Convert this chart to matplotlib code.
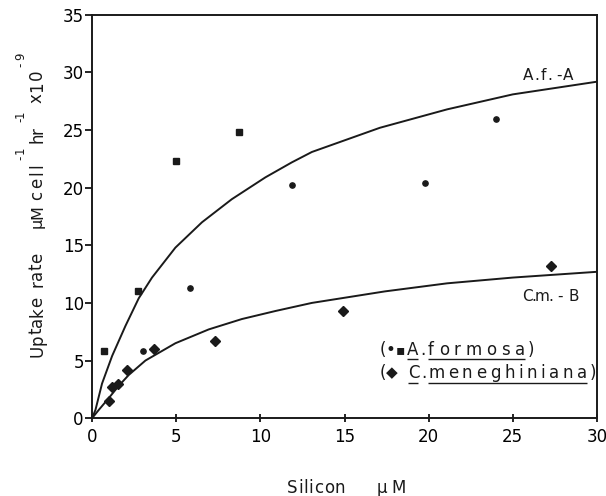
"""
Silicon uptake kinetics: A. formosa and C. meneghiniana.
"""
import matplotlib
matplotlib.use('Agg')
import matplotlib.pyplot as plt
from matplotlib.lines import Line2D
from matplotlib.transforms import IdentityTransform

plt.rcParams['font.family'] = ['DejaVu Sans']

# A. formosa, squares and circles (silicon uM, uptake rate)
af_sq_x = [0.7, 2.7, 5.0, 8.7]
af_sq_y = [5.8, 11.0, 22.3, 24.8]
af_ci_x = [3.0, 5.8, 11.9, 19.8, 24.0]
af_ci_y = [5.8, 11.3, 20.2, 20.4, 26.0]

# C. meneghiniana, diamonds
cm_x = [1.0, 1.2, 1.55, 2.1, 3.7, 7.3, 14.9, 27.3]
cm_y = [1.5, 2.7, 3.0, 4.2, 6.0, 6.7, 9.3, 13.2]

# fitted curves
curve_a_x = [0, 0.2, 0.59, 1.19, 1.98, 2.77, 3.56, 4.95, 6.53, 8.3, 10.3,
             11.87, 13.06, 17.1, 21.1, 25.0, 30.0]
curve_a_y = [0, 0.72, 3.0, 5.4, 8.0, 10.4, 12.2, 14.8, 17.0, 19.0, 20.9,
             22.2, 23.1, 25.2, 26.8, 28.1, 29.2]
curve_b_x = [0, 0.4, 0.99, 1.58, 2.18, 3.17, 4.95, 6.93, 8.9, 10.9, 13.06,
             17.4, 21.1, 25.0, 30.0]
curve_b_y = [0, 0.72, 1.74, 2.8, 3.75, 5.0, 6.5, 7.7, 8.6, 9.3, 10.0,
             11.0, 11.7, 12.2, 12.7]

x_ticks = [0, 5, 10, 15, 20, 25, 30]
y_ticks = [0, 5, 10, 15, 20, 25, 30, 35]

INK = '#1a1a1a'
H = 496
ID = IdentityTransform()

fig = plt.figure(figsize=(6.06, 4.96), dpi=100)
ax = fig.add_axes([0.152, 0.157, 0.833, 0.813])

ax.plot(curve_a_x, curve_a_y, color=INK, lw=1.4)
ax.plot(curve_b_x, curve_b_y, color=INK, lw=1.4)
ax.plot(af_sq_x, af_sq_y, 's', color=INK, ms=4.2, ls='none')
ax.plot(af_ci_x, af_ci_y, 'o', color=INK, ms=3.8, ls='none')
ax.plot(cm_x, cm_y, 'D', color=INK, ms=5.2, ls='none')

ax.set_xlim(0, 30)
ax.set_ylim(0, 35)
ax.set_xticks(x_ticks)
ax.set_yticks(y_ticks)
ax.tick_params(axis='x', direction='inout', length=6, width=1.2, labelsize=12, pad=4)
ax.tick_params(axis='y', direction='out', length=5, width=1.2, labelsize=12, pad=1)
for s in ax.spines.values():
    s.set_linewidth(1.4)
    s.set_color(INK)

fig.canvas.draw()
renderer = fig.canvas.get_renderer()


# text is set letter by letter so the wide spacing of the original can be kept
def fit(word, a, b, base, size=12, vertical=False):
    """Spread word between pixel a and b (image coords), baseline at base."""
    rot = 90 if vertical else 0
    texts = [fig.text(0, 0, c, fontsize=size, color=INK, transform=ID,
                      ha='left', va='baseline', rotation=rot,
                      rotation_mode='anchor') for c in word]
    ws = []
    for t in texts:
        bb = t.get_window_extent(renderer)
        ws.append(bb.height if vertical else bb.width)
    if vertical:
        start, end = H - a, H - b
    else:
        start, end = a, b
    gap = (end - start - sum(ws)) / max(len(word) - 1, 1)
    pos = start
    for t, w in zip(texts, ws):
        t.set_position((base, pos) if vertical else (pos, H - base))
        pos += w + gap


def underline(a, b, y):
    fig.add_artist(Line2D([a, b], [H - y, H - y], color=INK, lw=1.0,
                          transform=ID, solid_capstyle='butt'))


# x label
fit('Silicon', 287, 345, 493, size=12)
fit('\u00b5M', 377, 406, 493, size=12)

# y label, rotated, read bottom to top
fit('Uptake', 357, 297, 42, size=12, vertical=True)
fit('rate', 287, 253, 42, size=12, vertical=True)
fit('\u00b5M', 228, 205, 42, size=11.5, vertical=True)
fit('cell', 200, 163, 42, size=12, vertical=True)
fit('-1', 160, 147, 24, size=8.5, vertical=True)
fit('hr', 143, 127, 42, size=12, vertical=True)
fit('-1', 122, 111, 24, size=8.5, vertical=True)
fit('x10', 103, 70, 42, size=12, vertical=True)
fit('-9', 67, 53, 24, size=8.5, vertical=True)

# curve labels
fit('A.f.', 523, 552, 80, size=11)
fit('-', 556, 560, 80, size=11)
fit('A', 563, 577, 80, size=11)
fit('C.m.', 522, 553, 301, size=11)
fit('-', 557, 561, 301, size=11)
fit('B', 568, 580, 301, size=11)

# legend
fit('(', 380, 384, 355)
fit('\u2022', 385, 390, 355)
fit('\u25aa', 396, 401, 354, size=10)
fit('A', 407, 418, 355)
fit('.', 420, 422, 355)
fit('formosa', 428, 525, 355)
fit(')', 528, 532, 355)
underline(407, 418, 358.5)
underline(428, 525, 358.5)

fit('(', 380, 384, 378)
fit('\u25c6', 386, 395, 377, size=11)
fit('C', 408, 418, 378)
fit('.', 421, 423, 378)
fit('meneghiniana', 428, 587, 378)
fit(')', 590, 594, 378)
underline(408, 418, 382.5)
underline(428, 587, 382.5)

fig.savefig('out.png', dpi=100)
